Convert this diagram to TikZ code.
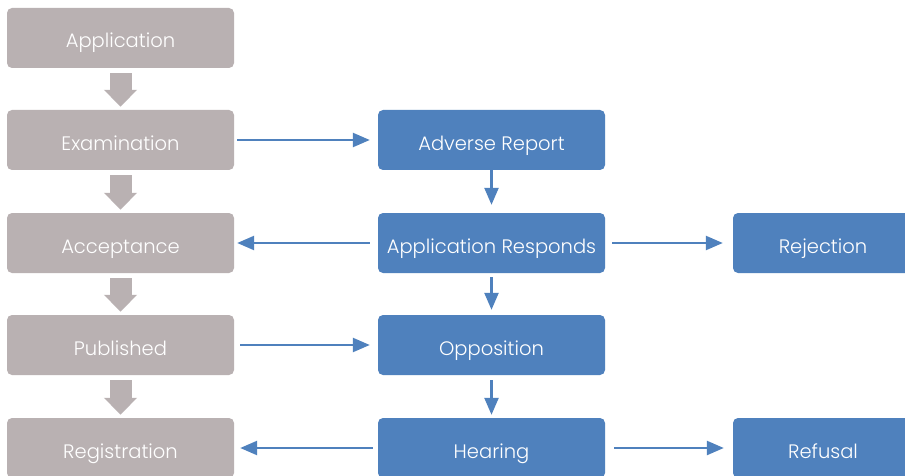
\documentclass[tikz,border=0pt]{standalone}
\usepackage{fontspec}
\setmainfont{Poppins Light}
\usetikzlibrary{arrows.meta}
\definecolor{greybox}{HTML}{B9B1B2}
\definecolor{bluebox}{HTML}{4F81BD}
\tikzset{
  box/.style={rounded corners=5pt, minimum height=60pt, inner sep=0pt, text height=20pt, text depth=0pt, text=white, font=\fontsize{19.5}{22}\selectfont},
  greynode/.style={box, fill=greybox, minimum width=227pt},
  bluenode/.style={box, fill=bluebox, minimum width=227pt},
  sidenode/.style={box, fill=bluebox, minimum width=180pt},
  greyarrow/.style={draw=greybox, line width=22pt, -{Triangle[length=17pt,width=32pt]}, shorten <=5pt, shorten >=3pt},
  bluearrow/.style={draw=bluebox, line width=2.4pt, -{Triangle[length=17pt,width=14pt]}}
}
\begin{document}
\begin{tikzpicture}[x=1pt,y=-1pt]
\useasboundingbox (0,0) rectangle (905,476);
\clip (0,0) rectangle (905,476);
\fill[white] (0,0) rectangle (905,476);
% grey column
\node[greynode] (app) at (120.5,38) {Application};
\node[greynode] (exam) at (120.5,140) {Examination};
\node[greynode] (acc) at (120.5,243) {Acceptance};
\node[greynode] (pub) at (120.5,345) {Published};
\node[greynode] (reg) at (120.5,448) {Registration};
% blue column
\node[bluenode] (adv) at (491.5,140) {Adverse Report};
\node[bluenode] (resp) at (491.5,243) {Application Responds};
\node[bluenode] (opp) at (491.5,345) {Opposition};
\node[bluenode] (hear) at (491.5,448) {Hearing};
% right column
\node[sidenode] (rej) at (823,243) {Rejection};
\node[sidenode] (ref) at (823,448) {Refusal};
% grey arrows
\draw[greyarrow] (app) -- (exam);
\draw[greyarrow] (exam) -- (acc);
\draw[greyarrow] (acc) -- (pub);
\draw[greyarrow] (pub) -- (reg);
% blue arrows
\draw[bluearrow, shorten <=3pt, shorten >=8pt] (exam) -- (adv);
\draw[bluearrow, shorten <=0pt, shorten >=8pt] (adv) -- (resp);
\draw[bluearrow, shorten <=8pt, shorten >=3pt] (resp) -- (acc);
\draw[bluearrow, shorten <=7pt, shorten >=10pt] (resp) -- (rej);
\draw[bluearrow, shorten <=4pt, shorten >=5pt] (resp) -- (opp);
\draw[bluearrow, shorten <=6pt, shorten >=8pt] (pub) -- (opp);
\draw[bluearrow, shorten <=5pt, shorten >=3pt] (opp) -- (hear);
\draw[bluearrow, shorten <=5pt, shorten >=6pt] (hear) -- (reg);
\draw[bluearrow, shorten <=9pt, shorten >=9pt] (hear) -- (ref);
\end{tikzpicture}
\end{document}
